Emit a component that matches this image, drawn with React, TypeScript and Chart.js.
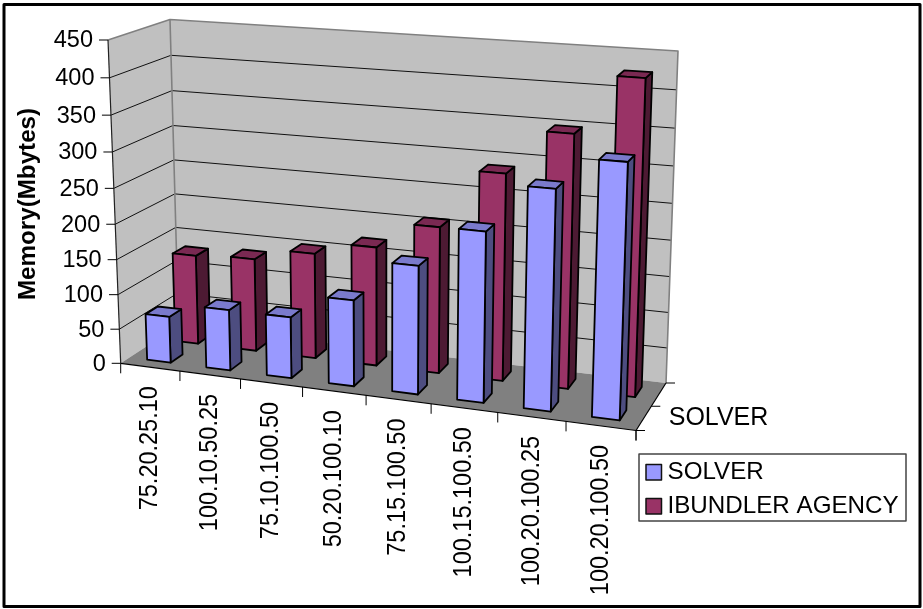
import React, { useEffect, useRef } from "react";
import { Chart, registerables } from "chart.js";

Chart.register(...registerables);

const categories = [
  "75.20.25.10",
  "100.10.50.25",
  "75.10.100.50",
  "50.20.100.10",
  "75.15.100.50",
  "100.15.100.50",
  "100.20.100.25",
  "100.20.100.50",
];
const solverValues = [67, 87, 87, 121, 178, 233, 297, 339];
const ibundlerValues = [131, 135, 152, 170, 207, 288, 348, 426];
const yTitle = "Memory(Mbytes)";
const depthLabel = "SOLVER";

const FONT = '"Liberation Sans", Arial, sans-serif';
const TEXT_SIZE = 23.5;
const LEGEND_TEXT_SIZE = 24.2;
const DEPTH_TEXT_SIZE = 25;

type Pt = [number, number];

// Corners of the 3D box on the canvas: front/back, bottom/top, left/right.
const BOX = {
  fbl: [120.7, 363.3] as Pt,
  ftl: [108, 40] as Pt,
  fbr: [636, 430.5] as Pt,
  ftr: [648, 78] as Pt,
  bbl: [178.5, 325.5] as Pt,
  btl: [170, 19.5] as Pt,
  bbr: [666, 383] as Pt,
  btr: [678, 51] as Pt,
};

// Perspective foreshortening per axis.
const persp = (t: number, k: number) => t / (t + k * (1 - t));
const K_U = 1.1;
const K_V = 1.06;
const K_W = 0.96;

const lerp = (a: Pt, b: Pt, t: number): Pt => [a[0] + (b[0] - a[0]) * t, a[1] + (b[1] - a[1]) * t];

function project(u: number, v: number, w: number): Pt {
  const pu = persp(u, K_U);
  const pv = persp(v, K_V);
  const pw = persp(w, K_W);
  const front = lerp(lerp(BOX.fbl, BOX.fbr, pu), lerp(BOX.ftl, BOX.ftr, pu), pv);
  const back = lerp(lerp(BOX.bbl, BOX.bbr, pu), lerp(BOX.btl, BOX.btr, pu), pv);
  return lerp(front, back, pw);
}

function poly(ctx: CanvasRenderingContext2D, pts: Pt[], fill: string | null, stroke: string | null, lw = 1) {
  ctx.beginPath();
  pts.forEach((p, i) => (i ? ctx.lineTo(p[0], p[1]) : ctx.moveTo(p[0], p[1])));
  if (fill) {
    ctx.closePath();
    ctx.fillStyle = fill;
    ctx.fill();
  }
  if (stroke) {
    ctx.strokeStyle = stroke;
    ctx.lineWidth = lw;
    ctx.lineJoin = "round";
    ctx.stroke();
  }
}

const line = (ctx: CanvasRenderingContext2D, a: Pt, b: Pt, color: string, lw: number) =>
  poly(ctx, [a, b], null, color, lw);

// Depth span of each series row along the floor.
const ROWS: [number, number][] = [
  [0.15, 0.36],
  [0.64, 0.86],
];
const SIDE_COLORS = ["#4D4D80", "#4D1A33"];
const TOP_COLORS = ["#7A7ACC", "#7A2952"];
const BAR_EDGE = 1.8;

const scene3d = {
  id: "scene3d",
  beforeDatasetsDraw(chart: any) {
    const ctx: CanvasRenderingContext2D = chart.ctx;
    const area = chart.chartArea;
    const xs = chart.scales.x;
    const ys = chart.scales.y;
    const toU = (px: number) => (px - area.left) / area.width;
    const toV = (px: number) => (area.bottom - px) / area.height;

    ctx.save();
    ctx.fillStyle = "#FFFFFF";
    ctx.fillRect(0, 0, chart.width, chart.height);

    // Walls and floor
    poly(ctx, [project(0, 0, 0), project(0, 1, 0), project(0, 1, 1), project(0, 0, 1)], "#C0C0C0", null);
    poly(ctx, [project(0, 0, 1), project(0, 1, 1), project(1, 1, 1), project(1, 0, 1)], "#C0C0C0", null);
    poly(ctx, [project(0, 0, 0), project(1, 0, 0), project(1, 0, 1), project(0, 0, 1)], "#808080", null);

    // Gridlines
    for (const tick of ys.ticks) {
      const v = toV(ys.getPixelForValue(tick.value));
      if (v <= 0.001 || v >= 0.999) continue;
      poly(ctx, [project(0, v, 0), project(0, v, 1), project(1, v, 1)], null, "#111111", 1);
    }

    // Wall outline
    poly(ctx, [project(0, 1, 0), project(0, 1, 1), project(1, 1, 1), project(1, 0, 1)], null, "#808080", 1.6);
    line(ctx, project(0, 1, 1), project(0, 0, 1), "#808080", 1.6);

    // Bars, back row first
    for (let d = chart.data.datasets.length - 1; d >= 0; d--) {
      const ds = chart.data.datasets[d];
      const [w0, w1] = ROWS[d];
      for (const el of chart.getDatasetMeta(d).data as any[]) {
        const u0 = toU(el.x - el.width / 2);
        const u1 = toU(el.x + el.width / 2);
        const vt = toV(el.y);
        const vb = toV(el.base);
        poly(ctx, [project(u1, vb, w0), project(u1, vb, w1), project(u1, vt, w1), project(u1, vt, w0)], SIDE_COLORS[d], "#000000", BAR_EDGE);
        poly(ctx, [project(u0, vt, w0), project(u1, vt, w0), project(u1, vt, w1), project(u0, vt, w1)], TOP_COLORS[d], "#000000", BAR_EDGE);
        poly(ctx, [project(u0, vb, w0), project(u1, vb, w0), project(u1, vt, w0), project(u0, vt, w0)], ds.backgroundColor, "#000000", BAR_EDGE);
      }
    }

    // Axis lines
    line(ctx, project(0, 1, 0), project(0, 0, 0), "#222222", 1.2);
    line(ctx, project(0, 0, 0), project(1, 0, 0), "#000000", 1.2);
    line(ctx, project(1, 0, 0), project(1, 0, 1), "#000000", 1.2);

    ctx.fillStyle = "#000000";
    ctx.font = `${TEXT_SIZE}px ${FONT}`;

    // Value axis ticks and labels
    ctx.textAlign = "right";
    ctx.textBaseline = "middle";
    for (const tick of ys.ticks) {
      const p = project(0, toV(ys.getPixelForValue(tick.value)), 0);
      line(ctx, p, [p[0] - 9, p[1]], "#000000", 1);
      ctx.fillStyle = "#000000";
      ctx.fillText(String(tick.value), p[0] - 15, p[1] + 1);
    }

    // Category axis ticks and rotated labels
    const labels: string[] = xs.getLabels();
    for (let i = 0; i <= labels.length; i++) {
      const p = project(i / labels.length, 0, 0);
      line(ctx, p, [p[0], p[1] + 10], "#000000", 1);
    }
    labels.forEach((text, i) => {
      const p = project(toU(xs.getPixelForValue(i)), 0, 0);
      ctx.save();
      ctx.translate(p[0] - 1, p[1] + 19);
      ctx.rotate(-Math.PI / 2);
      ctx.scale(1, 1.08);
      ctx.textAlign = "right";
      ctx.textBaseline = "middle";
      ctx.fillStyle = "#000000";
      ctx.fillText(text, 0, 1);
      ctx.restore();
    });

    // Depth axis ticks and label
    for (const w of [0, 0.5, 1]) {
      const p = project(1, 0, w);
      line(ctx, p, [p[0] + 9, p[1]], "#000000", 1);
    }
    const corner = project(1, 0, 0);
    line(ctx, corner, [corner[0], corner[1] + 10], "#000000", 1);
    const dp = project(1, 0, 0.25);
    ctx.textAlign = "left";
    ctx.fillStyle = "#000000";
    ctx.font = `${DEPTH_TEXT_SIZE}px ${FONT}`;
    ctx.fillText(depthLabel, dp[0] + 25, dp[1] + 0);

    // Value axis title
    ctx.save();
    ctx.translate(35, 204);
    ctx.rotate(-Math.PI / 2);
    ctx.textAlign = "center";
    ctx.textBaseline = "alphabetic";
    ctx.font = `bold 24.2px ${FONT}`;
    ctx.fillText(yTitle, 0, 0);
    ctx.restore();

    // Legend
    ctx.strokeStyle = "#444444";
    ctx.lineWidth = 1.5;
    ctx.fillStyle = "#FFFFFF";
    ctx.fillRect(639, 454, 267, 67);
    ctx.strokeRect(639, 454, 267, 67);
    ctx.font = `${LEGEND_TEXT_SIZE}px ${FONT}`;
    chart.data.datasets.forEach((ds: any, i: number) => {
      const y = 464.5 + i * 34;
      ctx.fillStyle = ds.backgroundColor;
      ctx.fillRect(646, y, 15.5, 15.5);
      ctx.strokeStyle = "#111111";
      ctx.lineWidth = 1.5;
      ctx.strokeRect(646, y, 15.5, 15.5);
      ctx.fillStyle = "#000000";
      ctx.textAlign = "left";
      ctx.textBaseline = "middle";
      ctx.fillText(ds.label, 667.5, y + 8);
    });

    // Chart frame
    ctx.strokeStyle = "#000000";
    ctx.lineWidth = 3;
    ctx.strokeRect(4, 4.5, 916, 602);
    ctx.restore();
    return false;
  },
};

export default function App() {
  const ref = useRef<HTMLCanvasElement>(null);
  useEffect(() => {
    const chart = new Chart(ref.current as HTMLCanvasElement, {
      type: "bar",
      data: {
        labels: categories,
        datasets: [
          { label: "SOLVER", data: solverValues, backgroundColor: "#9999FF", grouped: false, categoryPercentage: 0.4, barPercentage: 1 },
          { label: "IBUNDLER AGENCY", data: ibundlerValues, backgroundColor: "#993366", grouped: false, categoryPercentage: 0.4, barPercentage: 1 },
        ] as any,
      },
      options: {
        responsive: false,
        animation: false,
        events: [],
        layout: { padding: 0 },
        plugins: { legend: { display: false }, tooltip: { enabled: false } },
        scales: {
          x: { display: false },
          y: { display: false, min: 0, max: 450, ticks: { stepSize: 50 } },
        },
      },
      plugins: [scene3d as any],
    });
    return () => chart.destroy();
  }, []);
  return (
    <div style={{ position: "absolute", left: 0, top: 0, width: 923, height: 609, overflow: "hidden" }}>
      <canvas ref={ref} width={923} height={609} style={{ display: "block" }} />
    </div>
  );
}
